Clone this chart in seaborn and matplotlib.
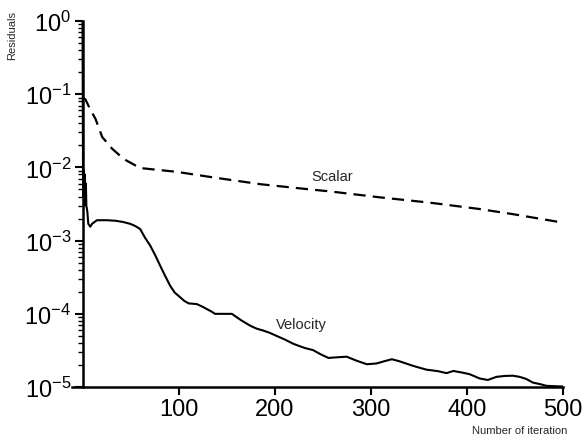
import matplotlib
matplotlib.use("Agg")
import matplotlib.pyplot as plt
import seaborn as sns
import pandas as pd
import numpy as np
from matplotlib.ticker import LogLocator, FixedLocator, NullFormatter

sns.set_theme(style="ticks")
plt.rcParams['font.family'] = ['Liberation Sans', 'DejaVu Sans']
plt.rcParams['mathtext.fontset'] = 'custom'
plt.rcParams['mathtext.rm'] = 'Liberation Sans'
plt.rcParams['mathtext.it'] = 'Liberation Sans:italic'
plt.rcParams['mathtext.bf'] = 'Liberation Sans:bold'
plt.rcParams['axes.unicode_minus'] = False

# Data
velocity_iter = [0, 0.5, 1, 1.5, 2, 2.5, 3, 3.5, 4, 5, 6, 8, 10, 15, 25, 34, 42, 50, 55, 60,
                 65, 70.6, 76, 81, 86, 91.4, 96, 101.8, 106, 110.5, 119, 125, 129.5, 134, 138,
                 146, 155.5, 165, 174.5, 181, 188.4, 195, 202, 210, 219.5, 226.5, 232, 240,
                 248, 256, 265, 275, 285, 296, 306, 314, 322, 330, 344, 358, 370, 379, 386,
                 395, 403, 413.5, 422, 431, 440, 448, 455, 462, 469, 476, 483, 490, 498, 500]
velocity_res = [1.0, 0.010, 0.004, 0.009, 0.003, 0.008, 0.0035, 0.006, 0.003, 0.0025, 0.0017,
                0.00155, 0.0017, 0.0019, 0.0019, 0.00187, 0.0018, 0.00169, 0.00158, 0.00144,
                0.0011, 0.00085, 0.00062, 0.00045, 0.00033, 0.00024, 0.000195, 0.000168,
                0.000150, 0.000139, 0.000136, 0.000125, 0.000116, 0.000108, 0.000100,
                0.000100, 0.000100, 0.000082, 0.000069, 0.000063, 0.000059, 0.000055, 0.000050,
                0.000045, 0.000039, 0.000036, 0.000034, 0.000032, 0.000028, 0.000025,
                0.0000255, 0.000026, 0.000023, 0.0000205, 0.000021, 0.0000225, 0.000024,
                0.0000225, 0.0000195, 0.0000173, 0.0000165, 0.0000155, 0.0000166, 0.0000158,
                0.000015, 0.0000131, 0.0000125, 0.0000138, 0.0000142, 0.0000143, 0.0000138,
                0.0000129, 0.0000115, 0.0000110, 0.0000104, 0.0000103, 0.0000102, 0.0000102]

scalar_iter = [0, 3, 8, 13.5, 20.5, 30.8, 43, 60, 98, 136, 185, 237, 257.7, 309.6, 361.6,
               413.5, 448, 498]
scalar_res = [0.090, 0.085, 0.062, 0.046, 0.026, 0.018, 0.013, 0.0098, 0.0087, 0.0073,
              0.0059, 0.0050, 0.0047, 0.0039, 0.0033, 0.0027, 0.0023, 0.00178]

x_ticks = [100, 200, 300, 400, 500]

vel_df = pd.DataFrame({"iteration": velocity_iter, "residual": velocity_res})
sca_df = pd.DataFrame({"iteration": scalar_iter, "residual": scalar_res})

fig = plt.figure(figsize=(5.85, 4.39), dpi=100)
ax = fig.add_axes([0.123, 0.116, 0.839, 0.834])

sns.lineplot(data=vel_df, x="iteration", y="residual", ax=ax, color="black",
             lw=1.5, estimator=None, sort=False)
sns.lineplot(data=sca_df, x="iteration", y="residual", ax=ax, color="black",
             lw=1.6, estimator=None, sort=False, linestyle=(0, (5.5, 3.2)))

ax.set_yscale("log")
ax.set_ylim(1e-5, 1)
ax.set_xlim(-11, 500)
ax.spines['left'].set_position(('data', 0))
ax.spines['top'].set_visible(False)
ax.spines['right'].set_visible(False)
for s in ['left', 'bottom']:
    ax.spines[s].set_linewidth(1.8)
    ax.spines[s].set_color('black')

ax.xaxis.set_major_locator(FixedLocator(x_ticks))
ax.yaxis.set_major_locator(LogLocator(base=10, numticks=10))
ax.yaxis.set_minor_locator(LogLocator(base=10, subs=np.arange(2, 10), numticks=10))
ax.yaxis.set_minor_formatter(NullFormatter())
ax.tick_params(axis='both', which='major', labelsize=17, colors='black', direction='out',
               length=6, width=1.5, pad=2)
ax.tick_params(axis='y', which='minor', direction='out', length=3.5, width=1.0, colors='black')
ax.tick_params(axis='x', which='minor', bottom=False)

ax.set_xlabel("")
ax.set_ylabel("")
fig.text(0.021, 0.918, "Residuals", rotation=90, ha='center', va='center', fontsize=8)
fig.text(0.888, 0.018, "Number of iteration", ha='center', va='center', fontsize=8)

ax.text(260, 7.6e-3, "Scalar", ha='center', va='center', fontsize=10.5)
ax.text(228, 7.2e-5, "Velocity", ha='center', va='center', fontsize=10.5)

fig.savefig("out.png", dpi=100)
